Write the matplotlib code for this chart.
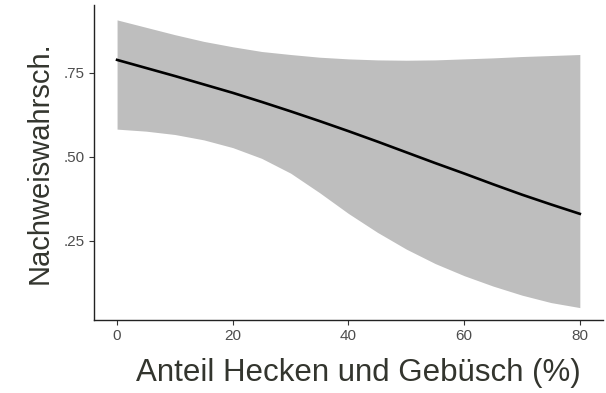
import numpy as np
import matplotlib.pyplot as plt

plt.rcParams['font.family'] = ['Liberation Sans', 'DejaVu Sans']

# predicted detection probability with confidence band
anteil = [0, 5, 10, 15, 20, 25, 30, 35, 40, 45, 50, 55, 60, 65, 70, 75, 80]
fit = [0.788, 0.764, 0.740, 0.715, 0.690, 0.663, 0.635, 0.606, 0.576,
       0.545, 0.513, 0.481, 0.450, 0.418, 0.387, 0.358, 0.330]
upper = [0.907, 0.885, 0.863, 0.843, 0.827, 0.813, 0.804, 0.796, 0.791,
         0.788, 0.787, 0.788, 0.791, 0.794, 0.798, 0.801, 0.804]
lower = [0.582, 0.576, 0.566, 0.550, 0.527, 0.495, 0.451, 0.393, 0.331,
         0.275, 0.225, 0.182, 0.146, 0.115, 0.088, 0.066, 0.051]

x_ticks = [0, 20, 40, 60, 80]
y_ticks = [0.25, 0.50, 0.75]
y_ticklabels = ['.25', '.50', '.75']

fig = plt.figure(figsize=(6.06, 3.93), dpi=100)
ax = fig.add_axes([0.155, 0.186, 0.84, 0.801])

ax.fill_between(anteil, lower, upper, color='#bebebe', linewidth=0)
ax.plot(anteil, fit, color='black', linewidth=1.9)

ax.set_xlim(-4, 84)
ax.set_ylim(0.0144, 0.951)
ax.set_xticks(x_ticks)
ax.set_yticks(y_ticks)
ax.set_yticklabels(y_ticklabels)

for side in ['top', 'right']:
    ax.spines[side].set_visible(False)
for side in ['left', 'bottom']:
    ax.spines[side].set_color('#222222')
    ax.spines[side].set_linewidth(1.0)

ax.tick_params(axis='both', colors='#333333', labelcolor='#4d4d4d',
               labelsize=11, length=3.5, width=0.8, pad=3)

# axis titles
ax.set_xlabel('Anteil Hecken und Gebüsch (%)', fontsize=22.5, color='#33352e')
ax.xaxis.set_label_coords(0.52, -0.122)
ax.set_ylabel('Nachweiswahrsch.', fontsize=21, color='#33352e')
ax.yaxis.set_label_coords(-0.080, 0.5)

fig.savefig('out.png', dpi=100)
